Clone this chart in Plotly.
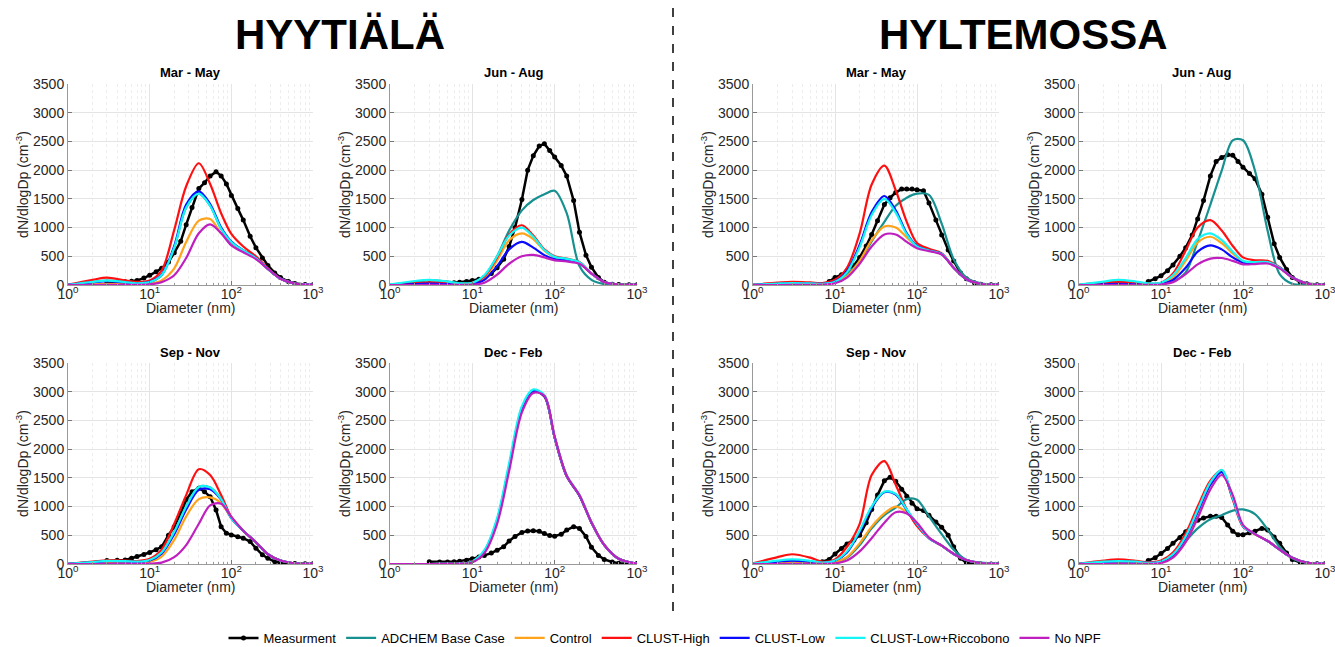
import plotly.graph_objects as go

# ---------------- data ----------------
D_MODEL = [1, 2, 3, 5, 7, 10, 14, 20, 28, 40, 55, 75, 100, 140, 200, 280, 400, 600, 1000]
D_MEAS = [3, 4, 5, 6, 7, 8.5, 10, 12, 14, 17, 20, 24, 28, 33, 40, 47, 55, 65, 75, 87,
          100, 120, 140, 170, 200, 240, 280, 340, 400, 500, 600, 800, 1000]

SERIES = ["Measurment", "ADCHEM Base Case", "Control", "CLUST-High", "CLUST-Low",
          "CLUST-Low+Riccobono", "No NPF"]
COLORS = ["#000000", "#179090", "#ffa31a", "#ff1010", "#0a0aff", "#14f5f5", "#c01fc0"]

SEASONS = ["Mar - May", "Jun - Aug", "Sep - Nov", "Dec - Feb"]
SITES = ["HYYTIÄLÄ", "HYLTEMOSSA"]
X_TICKS = [1, 10, 100, 1000]
X_TICKTEXT = ["10<sup>0</sup>", "10<sup>1</sup>", "10<sup>2</sup>", "10<sup>3</sup>"]
X_TITLE = "Diameter (nm)"
Y_TITLE = "dN/dlogDp (cm<sup>-3</sup>)"

# Hyytiälä Mar-May
hyy_mam_meas = [50, 50, 55, 65, 80, 120, 170, 230, 290, 400, 560, 760, 1050, 1350, 1680, 1780, 1900, 1970, 1900, 1760,
                1560, 1330, 1130, 850, 650, 470, 340, 210, 130, 60, 25, 8, 3]
hyy_mam_adchem = [2, 55, 75, 50, 30, 50, 170, 650, 1350, 1590, 1380, 980, 750, 600, 470, 280, 110, 25, 3]
hyy_mam_control = [0, 10, 20, 15, 10, 20, 80, 290, 750, 1120, 1150, 900, 730, 600, 470, 280, 110, 25, 3]
hyy_mam_high = [5, 90, 130, 80, 55, 80, 250, 960, 1720, 2120, 1760, 1250, 890, 670, 500, 290, 110, 25, 3]
hyy_mam_low = [2, 45, 65, 45, 30, 55, 180, 680, 1400, 1630, 1410, 1000, 755, 600, 470, 280, 110, 25, 3]
hyy_mam_ricco = [2, 55, 75, 50, 30, 50, 170, 650, 1350, 1590, 1380, 980, 750, 600, 470, 280, 110, 25, 3]
hyy_mam_nonpf = [0, 2, 3, 3, 3, 10, 50, 170, 470, 900, 1055, 900, 690, 570, 450, 280, 110, 25, 3]

# Hyytiälä Jun-Aug
hyy_jja_meas = [20, 25, 30, 40, 50, 60, 80, 100, 130, 200, 300, 450, 670, 1000, 1490, 2000, 2250, 2420, 2460, 2340,
                2230, 2080, 1900, 1470, 920, 520, 310, 130, 50, 15, 8, 5, 3]
hyy_jja_adchem = [5, 50, 80, 60, 30, 30, 150, 500, 950, 1300, 1480, 1580, 1640, 1250, 330, 90, 15, 3, 0]
hyy_jja_control = [0, 15, 25, 15, 5, 20, 120, 430, 780, 900, 800, 600, 480, 450, 390, 200, 50, 8, 1]
hyy_jja_high = [5, 30, 45, 30, 15, 30, 150, 480, 880, 1040, 860, 620, 500, 460, 400, 200, 50, 8, 1]
hyy_jja_low = [0, 15, 25, 15, 5, 15, 90, 330, 620, 750, 650, 520, 450, 430, 380, 200, 50, 8, 1]
hyy_jja_ricco = [10, 70, 90, 60, 30, 40, 170, 500, 860, 1000, 840, 610, 490, 455, 395, 200, 50, 8, 1]
hyy_jja_nonpf = [0, 0, 2, 2, 2, 5, 40, 180, 370, 500, 525, 480, 430, 410, 370, 200, 50, 8, 1]

# Hyytiälä Sep-Nov
hyy_son_meas = [60, 65, 70, 100, 130, 165, 200, 250, 300, 500, 650, 880, 1120, 1260, 1320, 1260, 1170, 940, 650, 535,
                505, 475, 450, 390, 275, 160, 100, 40, 20, 10, 8, 5, 5]
hyy_son_adchem = [3, 35, 55, 50, 40, 70, 200, 560, 1000, 1340, 1330, 1130, 800, 580, 380, 170, 60, 12, 2]
hyy_son_control = [0, 15, 25, 20, 15, 40, 130, 420, 830, 1130, 1160, 1060, 800, 580, 380, 170, 60, 12, 2]
hyy_son_high = [3, 40, 65, 60, 50, 90, 250, 700, 1200, 1650, 1550, 1200, 820, 580, 380, 170, 60, 12, 2]
hyy_son_low = [3, 30, 50, 45, 35, 60, 180, 520, 950, 1290, 1300, 1120, 800, 580, 380, 170, 60, 12, 2]
hyy_son_ricco = [3, 35, 55, 50, 40, 70, 200, 560, 1000, 1340, 1330, 1130, 800, 580, 380, 170, 60, 12, 2]
hyy_son_nonpf = [0, 0, 1, 1, 2, 5, 25, 120, 330, 700, 1020, 1050, 820, 580, 380, 170, 60, 12, 2]

# Hyytiälä Dec-Feb
hyy_djf_meas = [40, 35, 35, 40, 50, 65, 90, 120, 150, 190, 240, 300, 400, 480, 550, 575, 580, 570, 530, 495,
                485, 520, 590, 650, 620, 480, 290, 150, 80, 35, 15, 8, 8]
hyy_djf_adchem = [0, 0, 0, 2, 5, 40, 220, 760, 1700, 2700, 3010, 2920, 2200, 1530, 1190, 720, 330, 90, 5]
hyy_djf_control = [0, 0, 0, 2, 5, 40, 220, 760, 1700, 2700, 3010, 2920, 2200, 1530, 1190, 720, 330, 90, 5]
hyy_djf_high = [0, 0, 0, 2, 5, 40, 220, 760, 1700, 2700, 3010, 2920, 2200, 1530, 1190, 720, 330, 90, 5]
hyy_djf_low = [0, 0, 0, 2, 5, 40, 220, 760, 1700, 2700, 3010, 2920, 2200, 1530, 1190, 720, 330, 90, 5]
hyy_djf_ricco = [0, 0, 0, 2, 5, 45, 240, 800, 1760, 2750, 3040, 2940, 2210, 1540, 1200, 725, 330, 90, 5]
hyy_djf_nonpf = [0, 0, 0, 1, 3, 30, 190, 700, 1620, 2640, 2980, 2930, 2220, 1540, 1200, 725, 330, 90, 5]

# Hyltemossa Mar-May
hyl_mam_meas = [0, 0, 0, 0, 0, 60, 130, 180, 245, 340, 480, 680, 880, 1120, 1400, 1520, 1610, 1670, 1670, 1670,
                1660, 1640, 1430, 1130, 870, 610, 420, 210, 110, 40, 15, 5, 5]
hyl_mam_adchem = [0, 10, 15, 10, 10, 50, 180, 420, 760, 1100, 1380, 1520, 1590, 1570, 1070, 450, 130, 30, 5]
hyl_mam_control = [0, 10, 15, 10, 10, 40, 150, 420, 780, 1020, 1000, 830, 670, 600, 540, 300, 100, 20, 2]
hyl_mam_high = [5, 40, 55, 45, 35, 90, 300, 900, 1750, 2080, 1650, 1100, 730, 630, 550, 300, 100, 20, 2]
hyl_mam_low = [2, 20, 30, 25, 20, 60, 240, 700, 1270, 1550, 1300, 900, 680, 600, 540, 300, 100, 20, 2]
hyl_mam_ricco = [2, 25, 35, 28, 20, 55, 220, 660, 1220, 1500, 1260, 880, 670, 600, 540, 300, 100, 20, 2]
hyl_mam_nonpf = [0, 0, 2, 2, 5, 30, 130, 370, 670, 880, 880, 750, 640, 590, 530, 300, 100, 20, 2]

# Hyltemossa Jun-Aug
hyl_jja_meas = [0, 0, 0, 0, 60, 110, 160, 250, 350, 500, 650, 870, 1150, 1470, 1900, 2150, 2220, 2270, 2260, 2150,
                2050, 1940, 1850, 1580, 1180, 720, 480, 270, 130, 50, 20, 5, 2]
hyl_jja_adchem = [0, 40, 60, 40, 20, 20, 60, 220, 760, 1400, 1990, 2520, 2520, 1990, 940, 190, 20, 3, 0]
hyl_jja_control = [0, 15, 25, 15, 10, 25, 130, 420, 740, 840, 730, 550, 410, 395, 395, 300, 130, 25, 2]
hyl_jja_high = [3, 40, 55, 40, 20, 40, 200, 600, 1000, 1130, 950, 680, 480, 430, 420, 310, 130, 25, 2]
hyl_jja_low = [0, 10, 20, 10, 5, 15, 90, 300, 580, 690, 620, 480, 390, 380, 390, 300, 130, 25, 2]
hyl_jja_ricco = [5, 60, 90, 60, 30, 40, 170, 470, 800, 900, 780, 580, 420, 400, 400, 300, 130, 25, 2]
hyl_jja_nonpf = [0, 0, 2, 2, 2, 8, 50, 190, 360, 460, 470, 420, 360, 365, 375, 290, 130, 25, 2]

# Hyltemossa Sep-Nov
hyl_son_meas = [0, 0, 0, 0, 40, 80, 175, 270, 350, 420, 500, 720, 950, 1200, 1450, 1510, 1440, 1300, 1180, 1060,
                960, 930, 850, 730, 640, 500, 300, 100, 20, 5, 0, 0, 0]
hyl_son_adchem = [0, 20, 30, 20, 10, 30, 110, 330, 620, 850, 980, 1130, 1120, 830, 520, 250, 70, 25, 10]
hyl_son_control = [0, 20, 30, 20, 10, 30, 120, 360, 650, 880, 1000, 900, 700, 450, 320, 175, 70, 15, 2]
hyl_son_high = [10, 120, 170, 110, 40, 80, 300, 700, 1550, 1790, 1380, 950, 660, 450, 320, 175, 70, 15, 2]
hyl_son_low = [3, 40, 60, 40, 20, 55, 200, 560, 980, 1250, 1210, 940, 700, 450, 320, 175, 70, 15, 2]
hyl_son_ricco = [5, 60, 80, 55, 25, 60, 220, 580, 1000, 1260, 1220, 950, 700, 450, 320, 175, 70, 15, 2]
hyl_son_nonpf = [0, 0, 2, 2, 3, 10, 60, 220, 450, 720, 900, 880, 720, 460, 320, 175, 70, 15, 2]

# Hyltemossa Dec-Feb
hyl_djf_meas = [0, 0, 0, 0, 60, 110, 185, 270, 360, 460, 560, 690, 760, 800, 830, 830, 810, 680, 570, 510,
                510, 545, 570, 620, 590, 470, 360, 190, 80, 25, 10, 5, 5]
hyl_djf_adchem = [0, 20, 30, 20, 10, 50, 180, 400, 620, 780, 850, 930, 950, 870, 600, 300, 100, 20, 2]
hyl_djf_control = [2, 30, 40, 30, 15, 35, 150, 440, 890, 1380, 1610, 1160, 665, 520, 400, 250, 110, 25, 3]
hyl_djf_high = [5, 60, 80, 55, 30, 60, 200, 530, 1000, 1450, 1630, 1120, 650, 520, 400, 250, 110, 25, 3]
hyl_djf_low = [3, 35, 45, 35, 18, 40, 160, 460, 910, 1380, 1600, 1150, 660, 520, 400, 250, 110, 25, 3]
hyl_djf_ricco = [3, 40, 50, 40, 20, 45, 170, 480, 940, 1420, 1640, 1150, 660, 520, 400, 250, 110, 25, 3]
hyl_djf_nonpf = [0, 0, 2, 2, 3, 15, 110, 380, 800, 1300, 1550, 1200, 680, 520, 400, 250, 110, 25, 3]

# panel table: (season title, grid row, grid col, series lists in SERIES order)
PANELS = [
    (SEASONS[0], 0, 0, [hyy_mam_meas, hyy_mam_adchem, hyy_mam_control, hyy_mam_high, hyy_mam_low, hyy_mam_ricco, hyy_mam_nonpf]),
    (SEASONS[1], 0, 1, [hyy_jja_meas, hyy_jja_adchem, hyy_jja_control, hyy_jja_high, hyy_jja_low, hyy_jja_ricco, hyy_jja_nonpf]),
    (SEASONS[0], 0, 2, [hyl_mam_meas, hyl_mam_adchem, hyl_mam_control, hyl_mam_high, hyl_mam_low, hyl_mam_ricco, hyl_mam_nonpf]),
    (SEASONS[1], 0, 3, [hyl_jja_meas, hyl_jja_adchem, hyl_jja_control, hyl_jja_high, hyl_jja_low, hyl_jja_ricco, hyl_jja_nonpf]),
    (SEASONS[2], 1, 0, [hyy_son_meas, hyy_son_adchem, hyy_son_control, hyy_son_high, hyy_son_low, hyy_son_ricco, hyy_son_nonpf]),
    (SEASONS[3], 1, 1, [hyy_djf_meas, hyy_djf_adchem, hyy_djf_control, hyy_djf_high, hyy_djf_low, hyy_djf_ricco, hyy_djf_nonpf]),
    (SEASONS[2], 1, 2, [hyl_son_meas, hyl_son_adchem, hyl_son_control, hyl_son_high, hyl_son_low, hyl_son_ricco, hyl_son_nonpf]),
    (SEASONS[3], 1, 3, [hyl_djf_meas, hyl_djf_adchem, hyl_djf_control, hyl_djf_high, hyl_djf_low, hyl_djf_ricco, hyl_djf_nonpf]),
]

# ---------------- layout geometry (page pixels) ----------------
W, H = 1335, 647
COLS = [(68, 313), (390, 637), (753, 999), (1079, 1325)]
ROWS = [(84, 285), (363, 564)]
FONT = "Liberation Sans, Arial, Helvetica, sans-serif"
TXT = "#262626"


def px(x):
    return x / W


def py(y):
    return 1 - y / H


MINOR_X = [m * 10 ** e for e in range(3) for m in range(2, 10)]

fig = go.Figure()
layout = dict(
    width=W, height=H, margin=dict(l=0, r=0, t=0, b=0, pad=0, autoexpand=False),
    paper_bgcolor="white", plot_bgcolor="white",
    font=dict(family=FONT, color=TXT, size=13),
    showlegend=True,
    legend=dict(orientation="h", x=px(665), xanchor="center", y=py(638), yanchor="middle",
                font=dict(size=13, color="#000000"), itemwidth=30, tracegroupgap=0,
                bgcolor="rgba(0,0,0,0)"),
)
annotations = []

for i, (season, r, c, series) in enumerate(PANELS):
    k = i + 1
    xa = "x" if k == 1 else f"x{k}"
    ya = "y" if k == 1 else f"y{k}"
    x0, x1 = COLS[c]
    yt, yb = ROWS[r]
    for j, (name, col, vals) in enumerate(zip(SERIES, COLORS, series)):
        if j == 0:
            fig.add_trace(go.Scatter(
                x=D_MEAS, y=vals, name=name, mode="lines+markers",
                line=dict(color=col, width=2.5), marker=dict(size=5, color=col, symbol="circle"),
                xaxis=xa, yaxis=ya, legendgroup=name, showlegend=(k == 1)))
        else:
            fig.add_trace(go.Scatter(
                x=D_MODEL, y=vals, name=name, mode="lines",
                line=dict(color=col, width=2.2, shape="spline", smoothing=0.9),
                xaxis=xa, yaxis=ya, legendgroup=name, showlegend=(k == 1)))

    axkey = "xaxis" if k == 1 else f"xaxis{k}"
    aykey = "yaxis" if k == 1 else f"yaxis{k}"
    layout[axkey] = dict(
        type="log", range=[0, 3], domain=[px(x0), px(x1)], anchor=ya,
        tickmode="array", tickvals=X_TICKS, ticktext=X_TICKTEXT,
        tickfont=dict(size=14, color=TXT), ticks="inside", ticklen=4, tickcolor="#777",
        ticklabeloverflow="allow", ticklabelstandoff=-4,
        showgrid=True, gridcolor="#e4e4e4", gridwidth=1,
        minor=dict(tickvals=MINOR_X, showgrid=True, gridcolor="#ededed", griddash="dot",
                   ticks="inside", ticklen=2, tickcolor="#999"),
        showline=True, linecolor="#9a9a9a", linewidth=1, mirror=False, zeroline=False,
        automargin=False,
    )
    layout[aykey] = dict(
        range=[0, 3500], domain=[py(yb), py(yt)], anchor=xa,
        tick0=0, dtick=500, tickfont=dict(size=14, color=TXT),
        ticks="inside", ticklen=4, tickcolor="#777", ticklabeloverflow="allow",
        showgrid=True, gridcolor="#e4e4e4", gridwidth=1,
        showline=True, linecolor="#9a9a9a", linewidth=1, mirror=False, zeroline=False,
        automargin=False,
        title=dict(text=Y_TITLE, font=dict(size=14, color=TXT), standoff=1),
    )
    # season title
    annotations.append(dict(
        text=f"<b>{season}</b>", x=px((x0 + x1) / 2), y=py(yt - 11),
        xref="paper", yref="paper", xanchor="center", yanchor="middle", showarrow=False,
        font=dict(size=13, color="#000000")))
    # x-axis title
    annotations.append(dict(
        text=X_TITLE, x=px((x0 + x1) / 2), y=py(yb + 23),
        xref="paper", yref="paper", xanchor="center", yanchor="middle", showarrow=False,
        font=dict(size=14, color=TXT)))

# site headers
for name, cx in zip(SITES, [340, 1023]):
    annotations.append(dict(
        text=f"<b>{name}</b>", x=px(cx), y=py(35), xref="paper", yref="paper",
        xanchor="center", yanchor="middle", showarrow=False,
        font=dict(size=42, color="#000000", family=FONT)))

layout["annotations"] = annotations
layout["shapes"] = [dict(type="line", xref="paper", yref="paper",
                         x0=px(673), x1=px(673), y0=py(8), y1=py(612),
                         line=dict(color="#000000", width=1.5, dash="dash"))]

fig.update_layout(**layout)
fig.write_html("out.html")
